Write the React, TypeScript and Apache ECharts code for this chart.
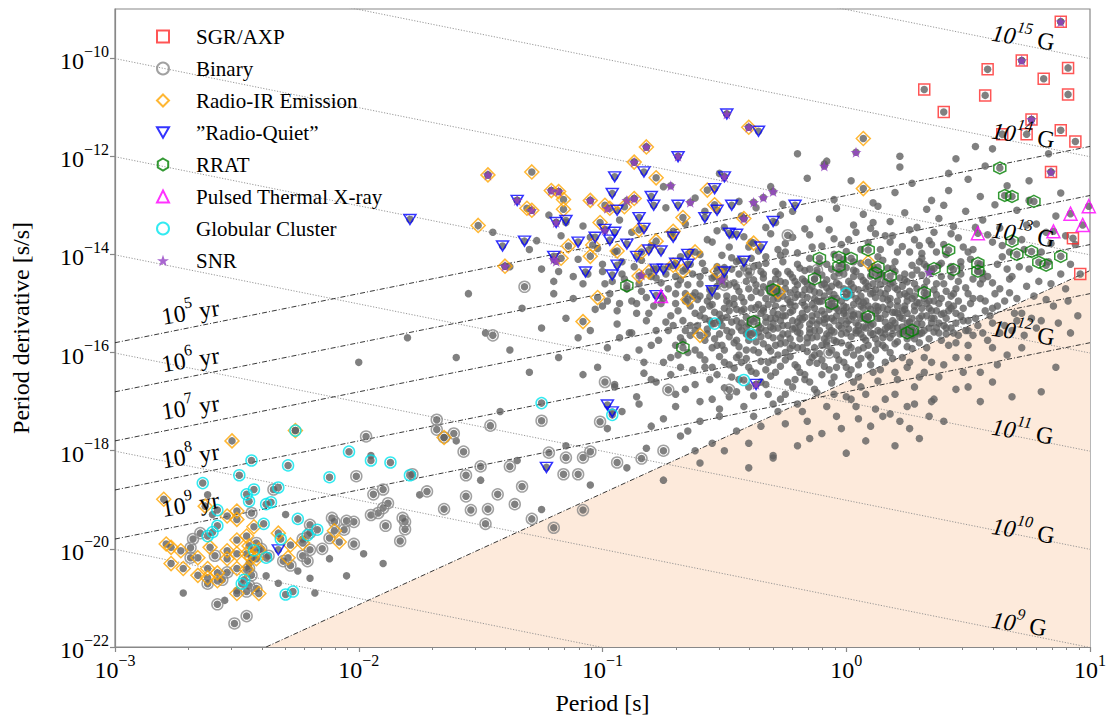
import React, { useEffect, useRef } from "react";
import * as echarts from "echarts";

// All positions are [log10 P (s), log10 Pdot (s/s)].

// Ordinary (isolated, non-flagged) radio pulsars
const normalPsr: number[][] = [
  [-0.62,-12.85],[-0.52,-12.35],[-0.44,-12.92],[-0.31,-12.62],[-0.26,-12.98],[-0.16,-12.45],[-0.05,-12.88],[0.02,-12.5],[0.11,-12.95],[0.2,-12.74],
  [0.22,-12.22],[0.27,-12.55],[0.35,-12.9],[0.42,-12.7],[0.5,-12.47],[0.55,-12.82],[0.61,-12.99],[0.66,-12.6],[0.75,-12.9],[-0.75,-12.62],
  [-0.09,-12.16],[0.45,-12.05],[0.6,-11.85],[-0.2,-11.95],[0.22,-12.0],[0.53,-11.8],[0.83,-11.95],[-0.08,-12.1],
  [-1.22,-13.2],[-1.08,-13.42],[-0.93,-13.3],[-0.74,-13.05],[-0.66,-13.38],[-0.58,-13.12],[-0.5,-13.45],[-0.43,-13.22],[-0.37,-13.05],[-0.29,-13.35],
  [-0.22,-13.12],[-0.17,-13.48],[-0.11,-13.28],[-0.04,-13.06],[0.03,-13.4],[0.07,-13.18],[0.13,-13.02],[0.18,-13.33],[0.24,-13.15],[0.29,-13.45],
  [0.33,-13.08],[0.38,-13.27],[0.44,-13.43],[0.49,-13.12],[0.56,-13.3],[0.63,-13.46],[0.7,-13.1],[0.78,-13.38],[0.86,-13.22],[-0.27,-13.2],[0.1,-13.47],[0.4,-13.0],
  [-1.3,-13.9],[-1.17,-13.62],[-1.02,-13.88],[-0.88,-13.55],[-0.8,-13.82],[-0.72,-13.6],[-0.64,-13.95],[-0.57,-13.7],[-0.53,-13.52],[-0.48,-13.85],
  [-0.42,-13.64],[-0.36,-13.93],[-0.31,-13.58],[-0.25,-13.78],[-0.2,-13.97],[-0.15,-13.6],[-0.1,-13.83],[-0.05,-13.68],[0.0,-13.94],[0.04,-13.55],
  [0.09,-13.76],[0.14,-13.9],[0.19,-13.62],[0.23,-13.84],[0.28,-13.7],[0.31,-13.98],[0.36,-13.55],[0.4,-13.8],[0.46,-13.66],[0.52,-13.9],
  [0.58,-13.6],[0.64,-13.82],[0.72,-13.7],[0.8,-13.95],[0.9,-13.62],[-0.39,-13.75],[-0.02,-13.8],[0.12,-13.58],[0.26,-13.95],[0.34,-13.72],
  [-1.25,-14.3],[-1.12,-14.45],[-1.0,-14.2],[-0.92,-14.4],[-0.84,-14.12],[-0.78,-14.48],[-0.73,-14.25],[-0.68,-14.05],[-0.63,-14.4],[-0.59,-14.18],
  [-0.55,-14.48],[-0.51,-14.02],[-0.47,-14.3],[-0.44,-14.12],[-0.4,-14.42],[-0.36,-14.22],[-0.33,-14.05],[-0.29,-14.35],[-0.26,-14.15],[-0.22,-14.47],
  [-0.19,-14.28],[-0.15,-14.08],[-0.12,-14.38],[-0.08,-14.2],[-0.05,-14.45],[-0.01,-14.1],[0.03,-14.32],[0.06,-14.18],[0.1,-14.44],[0.13,-14.05],
  [0.17,-14.28],[0.2,-14.15],[0.24,-14.4],[0.27,-14.22],[0.31,-14.08],[0.35,-14.35],[0.39,-14.18],[0.43,-14.45],[0.47,-14.25],[0.51,-14.1],
  [0.56,-14.38],[0.62,-14.2],[0.68,-14.45],[0.75,-14.3],[0.83,-14.15],[-0.34,-14.4],[-0.17,-14.33],[0.0,-14.27],[0.15,-14.42],[0.33,-14.25],
  [-1.2,-14.8],[-1.08,-14.6],[-0.98,-14.95],[-0.9,-14.7],[-0.82,-14.88],[-0.76,-14.58],[-0.7,-14.8],[-0.65,-14.62],[-0.61,-14.92],[-0.56,-14.72],
  [-0.52,-14.55],[-0.49,-14.85],[-0.45,-14.66],[-0.42,-14.97],[-0.38,-14.52],[-0.35,-14.78],[-0.31,-14.6],[-0.28,-14.9],[-0.25,-14.7],[-0.21,-14.55],
  [-0.18,-14.83],[-0.14,-14.65],[-0.11,-14.96],[-0.07,-14.75],[-0.04,-14.58],[0.0,-14.88],[0.03,-14.68],[0.07,-14.53],[0.1,-14.8],[0.14,-14.62],
  [0.17,-14.93],[0.21,-14.72],[0.25,-14.56],[0.28,-14.85],[0.32,-14.67],[0.36,-14.95],[0.4,-14.6],[0.44,-14.8],[0.49,-14.68],[0.55,-14.9],
  [0.6,-14.58],[0.67,-14.78],[0.74,-14.65],[0.82,-14.92],[0.9,-14.7],[-0.46,-14.58],[-0.23,-14.97],[-0.09,-14.6],[0.05,-14.95],[0.19,-14.57],
  [0.3,-14.99],[-0.6,-14.6],[-0.33,-14.9],[0.12,-14.72],
  [-1.15,-15.3],[-1.03,-15.12],[-0.94,-15.42],[-0.86,-15.2],[-0.79,-15.05],[-0.74,-15.38],[-0.69,-15.15],[-0.64,-15.45],[-0.6,-15.25],[-0.56,-15.05],
  [-0.52,-15.35],[-0.48,-15.15],[-0.44,-15.48],[-0.41,-15.28],[-0.37,-15.08],[-0.33,-15.38],[-0.3,-15.18],[-0.26,-15.45],[-0.23,-15.02],[-0.19,-15.3],
  [-0.16,-15.12],[-0.12,-15.42],[-0.09,-15.22],[-0.05,-15.05],[-0.02,-15.35],[0.02,-15.15],[0.05,-15.45],[0.09,-15.27],[0.13,-15.07],[0.16,-15.38],
  [0.2,-15.18],[0.23,-15.48],[0.27,-15.3],[0.31,-15.1],[0.35,-15.4],[0.39,-15.22],[0.44,-15.05],[0.5,-15.35],[0.57,-15.15],[0.65,-15.45],
  [0.72,-15.2],[0.8,-15.35],[-0.55,-15.42],[-0.35,-15.2],[-0.14,-15.25],[0.07,-15.1],[0.25,-15.2],
  [-1.1,-15.7],[-0.98,-15.9],[-0.88,-15.6],[-0.8,-15.85],[-0.73,-15.55],[-0.67,-15.78],[-0.62,-15.95],[-0.57,-15.62],[-0.53,-15.85],[-0.49,-15.55],
  [-0.45,-15.75],[-0.41,-15.95],[-0.38,-15.6],[-0.34,-15.82],[-0.3,-15.52],[-0.27,-15.7],[-0.23,-15.92],[-0.2,-15.58],[-0.16,-15.8],[-0.13,-15.55],
  [-0.09,-15.72],[-0.06,-15.95],[-0.02,-15.62],[0.01,-15.85],[0.05,-15.55],[0.08,-15.75],[0.12,-15.95],[0.16,-15.62],[0.2,-15.82],[0.24,-15.55],
  [0.28,-15.72],[0.33,-15.9],[0.38,-15.6],[0.45,-15.8],[0.52,-15.65],[0.6,-15.9],[-0.31,-15.97],[-0.04,-15.78],
  [-1.02,-16.3],[-0.9,-16.1],[-0.83,-16.42],[-0.75,-16.2],[-0.69,-16.05],[-0.63,-16.35],[-0.58,-16.15],[-0.53,-16.45],[-0.48,-16.25],[-0.44,-16.05],
  [-0.39,-16.38],[-0.35,-16.18],[-0.31,-16.48],[-0.27,-16.28],[-0.23,-16.08],[-0.19,-16.4],[-0.15,-16.2],[-0.11,-16.02],[-0.07,-16.35],[-0.03,-16.15],
  [0.01,-16.45],[0.05,-16.25],[0.09,-16.05],[0.14,-16.35],[0.19,-16.12],[0.25,-16.3],[0.32,-16.1],[0.4,-16.25],[0.48,-16.4],
  [-0.95,-16.7],[-0.86,-16.9],[-0.78,-16.6],[-0.7,-16.85],[-0.62,-16.65],[-0.55,-16.95],[-0.5,-16.72],[-0.44,-16.55],[-0.38,-16.88],[-0.33,-16.65],
  [-0.27,-16.95],[-0.22,-16.7],[-0.17,-16.55],[-0.12,-16.82],[-0.06,-16.62],[0.0,-16.9],[0.06,-16.7],[0.13,-16.58],[0.2,-16.85],[0.28,-16.7],[0.36,-16.95],
  [-0.92,-17.2],[-0.8,-17.5],[-0.7,-17.1],[-0.6,-17.4],[-0.52,-17.15],[-0.45,-17.6],[-0.38,-17.3],[-0.3,-17.05],[-0.25,-17.45],[-0.18,-17.2],
  [-0.1,-17.65],[-0.04,-17.3],[0.04,-17.1],[0.1,-17.5],[0.18,-17.25],[0.26,-17.55],[0.34,-17.3],[-0.55,-17.85],[-0.2,-17.9],[0.0,-18.05],
  [-1.55,-14.8],[-1.45,-13.55],[-1.38,-14.25],[-1.33,-15.1],[-1.27,-13.72],[-1.2,-14.55],[-1.15,-13.35],[-1.1,-14.1],[-1.05,-13.65],[-0.99,-14.6],
  [-0.95,-13.95],[-0.93,-15.0],[-1.48,-15.6],[-1.38,-15.95],[-1.25,-15.5],[-1.18,-16.1],[-1.08,-16.45],[-0.95,-16.65],
  [0.5,-13.95],[0.55,-14.6],[0.6,-15.1],[0.64,-14.05],[0.68,-15.55],[0.7,-14.9],[0.73,-13.9],[0.76,-15.3],[0.79,-14.55],[0.82,-13.55],
  [0.85,-15.05],[0.88,-14.4],[0.92,-15.6],[0.94,-13.8],[0.58,-15.75],[0.66,-16.05],[0.45,-16.1],[0.5,-16.7],[0.38,-16.5],[0.72,-15.9],
  [0.86,-16.3],[0.95,-15.25],[0.42,-12.35],[0.57,-12.2],[0.75,-12.5],[0.88,-12.75],
  [-1.95,-18.1],[-1.75,-18.9],[-1.6,-17.8],[-1.5,-18.6],[-1.42,-17.2],[-1.35,-18.2],[-1.25,-19.2],[-1.15,-17.9],[-1.05,-18.7],[-0.98,-17.55],
  [-0.9,-18.35],[-0.82,-17.95],[-0.75,-18.6],[-0.68,-17.7],[-0.6,-18.25],[-0.5,-18.0],[-0.4,-18.35],[-0.3,-18.15],[-1.3,-16.4],[-1.6,-16.1],
  [-1.8,-15.7],[-2.0,-16.2],
  [-2.72,-20.9],[-2.6,-19.3],[-2.55,-21.05],[-2.45,-20.3],[-2.38,-20.55],[-2.33,-20.7],[-2.3,-19.3],[-2.25,-20.45],[-2.18,-20.9],[-2.12,-20.2],
  [-2.05,-20.55],[-1.98,-20.1],[-2.62,-18.9],[-2.5,-20.85],[-2.2,-20.6],[-1.9,-20.3],
  [-0.5,-14.27],[-0.46,-14.9],[-0.43,-15.55],[-0.4,-14.7],[-0.37,-15.3],[-0.34,-14.48],[-0.32,-15.65],[-0.29,-14.8],[-0.26,-15.1],[-0.24,-14.35],
  [-0.21,-15.5],[-0.18,-14.98],[-0.16,-15.7],[-0.13,-14.5],[-0.1,-15.15],[-0.08,-14.68],[-0.06,-15.55],[-0.03,-14.32],[-0.01,-15.05],[0.02,-14.6],
  [0.04,-15.6],[0.06,-14.85],[0.08,-15.32],[0.11,-14.25],[0.13,-15.55],[0.15,-14.9],[0.18,-15.45],[0.22,-14.48],[0.24,-15.05],[0.26,-14.75],
  [0.29,-15.58],[0.31,-14.42],[0.33,-15.25],[0.37,-14.82],[-0.48,-15.0],[-0.44,-14.4],[-0.41,-15.62],[-0.38,-14.25],[-0.36,-15.02],[-0.3,-14.68],
  [-0.27,-15.35],[-0.25,-14.58],[-0.2,-15.38],[-0.17,-14.55],[-0.15,-15.52],[-0.11,-14.78],[-0.07,-15.48],[-0.04,-14.9],[0.0,-15.25],[0.03,-14.45],
  [0.07,-15.7],[0.09,-14.65],[0.12,-15.2],[0.16,-14.55],[0.19,-15.62],[0.21,-14.95],[0.25,-15.4],[0.28,-14.6],[0.3,-15.3],[0.34,-14.95],
  [-0.53,-14.65],[-0.58,-15.3],[-0.62,-14.78],[-0.66,-15.55],[-0.7,-14.45],[-0.55,-15.9],[-0.45,-16.1],[-0.28,-16.05],[-0.12,-16.22],[0.03,-16.05],
  [0.18,-16.0],[0.41,-15.5],[0.46,-14.95],[0.52,-14.5],[0.47,-15.25],[0.41,-14.0],[0.35,-13.8],[0.18,-13.75],[-0.05,-14.0],[-0.25,-13.95],
  [-0.45,-14.15],[-0.6,-14.0],
  [-0.58,-14.33],[-0.56,-14.86],[-0.54,-15.18],[-0.52,-15.62],[-0.5,-14.46],[-0.49,-15.28],[-0.47,-14.07],[-0.46,-15.8],[-0.44,-14.75],[-0.43,-15.15],
  [-0.41,-14.55],[-0.4,-15.42],[-0.39,-14.08],[-0.37,-14.62],[-0.36,-15.58],[-0.34,-15.1],[-0.33,-14.18],[-0.32,-14.7],[-0.31,-15.48],[-0.29,-14.5],
  [-0.28,-15.22],[-0.27,-14.02],[-0.26,-14.85],[-0.24,-15.62],[-0.23,-14.4],[-0.22,-15.15],[-0.21,-14.72],[-0.2,-14.2],[-0.19,-15.45],[-0.18,-14.5],
  [-0.17,-15.05],[-0.16,-14.88],[-0.15,-14.3],[-0.14,-15.35],[-0.13,-14.76],[-0.12,-15.68],[-0.11,-14.18],[-0.1,-14.95],[-0.09,-15.4],[-0.08,-14.52],
  [-0.07,-15.12],[-0.06,-14.3],[-0.05,-14.82],[-0.04,-15.25],[-0.03,-14.62],[-0.02,-15.5],[-0.01,-14.4],[0.0,-15.08],[0.01,-14.72],[0.02,-15.32],
  [0.03,-14.15],[0.04,-14.9],[0.05,-15.22],[0.06,-14.45],[0.07,-15.48],[0.08,-14.7],[0.09,-15.05],[0.1,-14.3],[0.11,-15.62],[0.12,-14.88],
  [0.13,-14.5],[0.14,-15.3],[0.15,-14.12],[0.16,-14.8],[0.17,-15.12],[0.18,-14.6],[0.19,-15.35],[0.2,-14.35],[0.21,-15.5],[0.22,-14.82],
  [0.23,-15.15],[0.24,-14.52],[0.25,-14.95],[0.26,-15.55],[0.27,-14.42],[0.28,-15.15],[0.29,-14.7],[0.3,-14.15],[0.31,-15.42],[0.32,-14.9],
  [0.33,-14.55],[0.34,-15.1],[0.35,-14.3],[0.36,-15.3],[0.37,-14.6],[0.38,-15.0],[0.39,-14.45],[0.4,-15.45],[0.41,-14.75],[0.42,-15.15],
  [0.43,-14.25],[0.44,-15.6],[0.46,-14.55],[0.48,-15.1],[0.5,-14.8],[0.53,-15.3],[0.55,-14.2],[0.57,-14.95],[0.6,-15.4],[0.63,-14.7],
  [-0.57,-14.95],[-0.53,-14.25],[-0.51,-15.85],[-0.48,-14.62],[-0.45,-15.35],[-0.42,-14.28],[-0.39,-14.88],[-0.37,-15.78],[-0.35,-14.35],[-0.33,-15.28],
  [-0.3,-14.92],[-0.28,-14.4],[-0.25,-15.25],[-0.23,-14.78],[-0.22,-15.85],[-0.2,-14.62],[-0.18,-15.2],[-0.15,-14.72],[-0.13,-15.9],[-0.12,-14.95],
  [-0.1,-14.42],[-0.08,-15.3],[-0.06,-14.9],[-0.05,-15.75],[-0.02,-14.22],[-0.01,-15.2],[0.01,-14.55],[0.02,-15.9],[0.04,-14.35],[0.06,-15.05],
  [0.08,-14.95],[0.1,-15.45],[0.11,-14.6],[0.13,-15.82],[0.14,-14.4],[0.16,-15.22],[0.18,-14.9],[0.19,-14.28],[0.21,-15.2],[0.23,-14.65],
  [0.25,-15.72],[0.27,-14.9],[0.29,-14.32],[0.3,-15.62],[0.32,-14.2],[0.34,-15.5],[0.36,-14.72],[0.38,-14.22],[0.4,-15.2],[0.43,-14.85],
  [0.45,-15.4],[0.47,-14.4],[0.49,-15.55],[0.51,-15.0],[0.54,-14.35],[0.56,-15.6],[0.58,-14.45],[0.62,-15.05],[0.66,-14.3],[0.7,-15.35],
  [-0.6,-16.05],[-0.55,-16.3],[-0.5,-15.95],[-0.47,-16.5],[-0.43,-16.2],[-0.4,-15.75],[-0.36,-16.0],[-0.33,-16.35],[-0.29,-15.85],[-0.25,-16.15],
  [-0.21,-16.55],[-0.18,-15.9],[-0.14,-16.1],[-0.1,-16.45],[-0.08,-15.85],[-0.04,-16.3],[0.0,-16.0],[0.03,-16.6],[0.07,-15.9],[0.1,-16.25],
  [0.15,-15.85],[0.2,-16.4],[0.23,-16.1],[0.27,-15.92],[0.3,-16.5],[0.35,-16.2],[0.42,-15.85],[0.5,-16.1],[0.55,-16.4],[0.62,-16.25],
  [0.35,-17.0],[0.45,-16.75],[0.25,-17.1],[0.4,-17.4],[0.15,-17.3],[0.55,-17.0],[0.6,-16.6],[0.3,-17.75],[0.68,-16.9],[0.8,-16.8],
  [-1.18,-14.35],[-1.12,-14.9],[-1.06,-14.4],[-1.0,-15.05],[-0.96,-14.55],[-0.92,-14.15],[-0.88,-14.95],[-0.85,-14.6],[-0.82,-15.35],[-0.79,-14.3],
  [-0.76,-15.0],[-0.73,-14.7],[-0.71,-15.45],[-0.68,-14.52],[-0.66,-14.95],[-0.64,-14.2],[-0.62,-15.2],[-0.6,-14.45],[-0.89,-15.6],[-0.77,-15.75],
  [-0.72,-16.1],[-0.65,-16.0],[-1.05,-15.55],[-0.83,-16.2],
  [-0.55,-13.75],[-0.47,-13.6],[-0.4,-13.85],[-0.33,-13.45],[-0.28,-13.9],[-0.22,-13.65],[-0.14,-13.85],[-0.07,-13.5],[0.01,-13.7],[0.06,-13.9],
  [0.11,-13.35],[0.16,-13.62],[0.21,-13.95],[0.26,-13.5],[0.3,-13.82],[0.37,-13.95],[0.43,-13.58],[0.48,-13.85],[0.53,-13.45],[0.6,-13.75],
  [0.67,-13.95],[0.74,-13.4],[0.84,-13.78],[0.92,-14.2],
  [-0.59,-15.12],[-0.57,-15.52],[-0.55,-15.02],[-0.54,-15.72],[-0.52,-15.22],[-0.51,-15.45],[-0.5,-15.1],[-0.48,-15.68],[-0.47,-15.38],[-0.46,-15.02],
  [-0.44,-15.88],[-0.43,-15.4],[-0.42,-15.12],[-0.4,-15.6],[-0.39,-15.33],[-0.38,-15.95],[-0.36,-15.45],[-0.35,-15.68],[-0.34,-15.15],[-0.32,-15.9],
  [-0.31,-15.3],[-0.3,-15.7],[-0.29,-15.05],[-0.28,-15.5],[-0.27,-15.82],[-0.26,-15.25],[-0.24,-15.45],[-0.23,-15.72],[-0.22,-15.35],[-0.21,-15.05],
  [-0.2,-15.9],[-0.19,-15.6],[-0.17,-15.28],[-0.16,-15.98],[-0.15,-15.42],[-0.14,-15.7],[-0.13,-15.1],[-0.11,-15.55],[-0.1,-15.85],[-0.09,-15.32],
  [-0.08,-15.62],[-0.07,-15.02],[-0.06,-15.3],[-0.05,-15.58],[-0.04,-16.05],[-0.03,-15.45],[-0.02,-15.8],[-0.01,-15.15],[0.0,-15.6],[0.01,-15.35],
  [0.02,-15.68],[0.03,-15.02],[0.04,-15.4],[0.05,-15.95],[0.06,-15.62],[0.07,-15.25],[0.08,-15.5],[0.09,-15.85],[0.1,-15.12],[0.11,-15.42],
  [0.12,-15.72],[0.13,-15.3],[0.14,-15.58],[0.15,-15.08],[0.16,-15.9],[0.17,-15.48],[0.18,-15.7],[0.19,-15.18],[0.2,-15.4],[0.21,-15.78],
  [0.22,-15.28],[0.23,-15.6],[0.24,-15.12],[0.25,-15.88],[0.26,-15.38],[0.27,-15.65],[0.28,-15.05],[0.29,-15.42],[0.3,-15.8],[0.31,-15.25],
  [0.32,-15.55],[0.33,-15.0],[0.34,-15.72],[0.35,-15.3],[0.36,-15.58],[0.37,-15.15],[0.38,-15.4],[0.39,-15.75],[0.41,-15.3],[0.42,-15.02],
  [0.43,-15.5],[0.45,-15.2],[0.46,-15.65],[0.48,-15.35],[0.5,-15.55],[-0.58,-16.3],[-0.52,-16.08],[-0.46,-16.32],[-0.41,-16.12],[-0.37,-16.42],
  [-0.32,-16.2],[-0.29,-16.4],[-0.25,-16.0],[-0.21,-16.25],[-0.17,-16.45],[-0.13,-16.05],[-0.09,-16.28],[-0.05,-16.5],[-0.01,-16.2],[0.02,-16.35],
  [0.06,-16.12],[0.11,-16.4],[0.16,-16.2],[0.21,-16.55],[0.26,-16.2],
  [-0.72,-16.45],[-0.66,-16.75],[-0.6,-17.0],[-0.56,-16.55],[-0.52,-17.3],[-0.48,-16.9],[-0.42,-17.1],[-0.4,-16.7],[-0.35,-17.5],[-0.32,-16.85],
  [-0.28,-17.2],[-0.24,-16.6],[-0.2,-17.05],[-0.16,-17.4],[-0.13,-16.75],[-0.08,-17.1],[-0.05,-16.85],[-0.02,-17.55],[0.02,-16.95],[0.05,-17.35],
  [0.08,-16.85],[0.12,-17.15],[0.16,-16.95],[0.22,-17.4],[0.28,-17.05],[-0.65,-17.6],[-0.4,-17.85],[-0.15,-17.75],[0.08,-17.8],[-0.3,-18.1],
  [-0.75,-17.35],[-0.85,-17.05],[-0.62,-18.0],[0.2,-17.9],[0.32,-16.4],
  [-1.0,-14.35],[-0.97,-14.8],[-0.94,-15.15],[-0.91,-14.5],[-0.87,-14.25],[-0.86,-15.0],[-0.84,-14.75],[-0.81,-15.2],[-0.8,-14.45],[-0.78,-15.55],
  [-0.75,-14.9],[-0.74,-14.4],[-0.72,-15.25],[-0.7,-15.0],[-0.69,-14.62],[-0.67,-15.35],[-0.66,-14.3],[-0.64,-15.65],[-0.63,-14.85],[-0.61,-15.45],
  [-0.93,-15.7],[-0.85,-15.95],[-0.7,-15.85],[-0.68,-16.3],[-0.8,-16.55],
  [0.47,-14.15],[0.5,-15.85],[0.52,-14.9],[0.54,-15.45],[0.56,-14.5],[0.59,-15.25],[0.61,-14.8],[0.63,-15.6],[0.65,-14.95],[0.67,-14.5],
  [0.69,-15.2],[0.71,-14.25],[0.73,-15.65],[0.77,-14.85],[0.78,-15.5],[0.84,-14.6],[0.87,-15.4],[0.91,-14.95],
  [-0.34,-14.66],[-0.32,-15.02],[-0.3,-15.4],[-0.28,-14.72],[-0.26,-15.62],[-0.24,-14.92],[-0.22,-15.52],[-0.2,-14.82],[-0.18,-15.32],[-0.16,-14.6],
  [-0.14,-15.02],[-0.12,-15.22],[-0.1,-14.62],[-0.08,-15.78],[-0.06,-14.65],[-0.04,-15.1],[-0.02,-14.95],[0.0,-15.42],[0.02,-14.82],[0.04,-15.55],
  [0.06,-15.3],[0.08,-14.58],[0.1,-15.6],[0.12,-15.05],[0.14,-14.78],[0.16,-15.52],[0.18,-15.02],[0.2,-14.68],[0.22,-15.62],[0.24,-14.8],
  [-0.33,-15.55],[-0.31,-14.78],[-0.29,-15.3],[-0.27,-14.55],[-0.25,-15.8],[-0.23,-15.18],[-0.21,-14.88],[-0.19,-15.72],[-0.17,-14.72],[-0.15,-15.6],
  [-0.13,-14.9],[-0.11,-15.35],[-0.09,-14.85],[-0.07,-15.65],[-0.05,-15.35],[-0.03,-15.15],[-0.01,-14.7],[0.01,-15.52],[0.03,-15.22],[0.05,-14.72],
  [0.07,-14.98],[0.09,-15.38],[0.11,-14.78],[0.13,-15.15],[0.15,-15.7],[0.17,-14.7],[0.19,-15.5],[0.21,-15.05],[0.23,-15.3],[0.25,-14.85],
  [-0.45,-15.12],[-0.43,-14.88],[-0.41,-15.48],[-0.39,-15.1],[-0.37,-14.75],[-0.35,-15.5],[-0.47,-15.58],[-0.49,-14.95],[-0.51,-15.3],[-0.53,-14.85],
  [0.27,-15.48],[0.29,-14.98],[0.31,-15.6],[0.33,-14.8],[0.35,-15.15],[0.37,-15.5],[0.39,-14.9],[0.41,-15.62],[0.43,-15.1],[0.45,-14.7],
  [-0.62,-15.55],[-0.6,-14.85],[-0.58,-15.75],[-0.56,-15.35],[-0.54,-14.45],[-0.64,-15.05],[-0.66,-14.8],[-0.68,-15.7],[-0.5,-16.2],[-0.4,-16.3],
  [-0.3,-16.15],[-0.2,-16.3],[-0.1,-16.15],[0.0,-16.3],[0.1,-16.1],[-0.35,-16.6],[-0.15,-16.6],[0.05,-16.5],[-0.45,-16.8],[-0.25,-16.85],
];

const sgrAxp: number[][] = [
  [0.88,-9.26],[0.72,-10.05],[0.58,-10.23],[0.91,-10.2],[0.81,-10.42],[0.32,-10.64],[0.57,-10.76],[0.91,-10.74],[0.4,-11.1],
  [0.76,-11.25],[0.64,-11.55],[0.74,-11.55],[0.88,-11.47],[0.94,-11.7],[0.84,-12.32],[0.93,-13.67],[0.96,-14.4],
];

const binary: number[][] = [
  [-1.94,-18.89],[-1.9,-18.79],[-1.88,-19.07],[-1.9,-19.17],[-1.95,-19.31],[-1.92,-19.27],[-1.81,-19.45],[-1.81,-19.6],[-1.89,-19.53],[-1.83,-19.84],
  [-2.02,-19.45],[-2.06,-19.61],[-2.1,-19.45],[-2.12,-19.78],[-2.02,-19.9],[-2.2,-19.51],[-2.2,-19.67],[-2.23,-19.8],[-2.15,-20.0],[-2.2,-20.02],
  [-2.23,-20.14],[-2.21,-20.25],[-2.31,-20.25],[-2.4,-20.0],[-2.42,-19.88],[-2.37,-20.14],[-2.28,-20.34],[-2.44,-20.54],[-2.45,-20.4],[-2.45,-20.75],
  [-2.42,-20.81],[-2.46,-20.87],[-2.54,-20.48],[-2.56,-20.63],[-2.58,-21.13],[-2.46,-21.37],[-2.51,-21.52],[-2.62,-20.71],[-2.69,-19.98],[-2.68,-19.8],
  [-2.65,-19.68],[-2.69,-20.18],[-2.59,-20.14],[-2.44,-19.27],[-2.35,-18.79],[-2.11,-19.37],[-1.82,-19.37],
  [-1.68,-17.37],[-1.68,-17.57],[-1.65,-17.73],[-1.61,-17.65],[-1.57,-18.02],[-1.56,-18.5],[-1.46,-17.49],[-1.5,-18.32],[-1.38,-18.32],[-1.25,-17.39],
  [-1.22,-18.04],[-1.15,-18.14],[-1.08,-18.14],[-1.05,-18.02],[-1.01,-17.41],[-0.99,-16.6],[-0.94,-18.24],[-0.84,-18.16],[-0.75,-18.0],[-2.01,-18.52],
  [-1.78,-18.48],[-1.72,-18.83],[-1.65,-19.19],[-1.56,-18.93],[-1.54,-19.21],[-1.47,-19.19],[-1.48,-19.49],[-1.43,-18.89],[-1.36,-19.09],[-1.33,-18.73],
  [-1.29,-19.39],[-1.2,-19.57],[-1.16,-18.48],[-1.1,-18.48],[-1.08,-19.21],[-1.97,-17.71],[-2.05,-19.43],
  [-1.32,-14.66],[-1.45,-15.65],[-0.73,-16.76],[-0.48,-16.76],[-0.24,-13.61],[-0.4,-14.34],[-0.5,-14.62],[-0.12,-14.32],[-0.03,-14.38],[0.03,-15.25],[-0.07,-16.0],
];

const radioIR: number[][] = [
  [-2.8,-18.99],[-2.63,-19.13],[-2.52,-17.8],[-2.26,-17.59],[-2.54,-19.33],[-2.5,-19.23],[-2.5,-19.4],[-2.43,-19.55],[-2.5,-19.82],[-2.79,-19.9],
  [-2.77,-19.97],[-2.73,-20.04],[-2.77,-20.3],[-2.72,-20.4],[-2.66,-20.18],[-2.66,-20.54],[-2.62,-20.4],[-2.61,-19.97],[-2.62,-20.59],[-2.58,-20.49],
  [-2.58,-20.65],[-2.54,-20.04],[-2.5,-20.1],[-2.54,-20.2],[-2.46,-20.1],[-2.45,-19.94],[-2.44,-20.18],[-2.5,-20.4],[-2.46,-20.42],[-2.5,-20.91],
  [-2.41,-20.91],[-2.33,-19.68],[-2.28,-19.92],[-2.29,-20.18],[-2.23,-19.88],[-2.42,-20.2],[-2.41,-20.02],[-2.46,-19.74],[-2.1,-19.63],[-2.08,-19.86],
  [-1.65,-17.73],
  [-1.47,-12.38],[-1.29,-12.32],[-1.21,-12.7],[-1.18,-12.72],[-1.16,-12.88],[-1.31,-13.06],[-1.29,-13.1],[-1.16,-13.08],[-1.51,-13.41],[-1.4,-14.24],
  [-1.14,-13.83],[-1.17,-14.08],[-1.05,-12.9],[-1.05,-14.04],[-1.01,-13.35],[-0.99,-13.0],[-0.97,-13.06],[-1.04,-13.81],[-0.94,-13.93],[-0.91,-13.03],
  [-0.87,-12.86],[-0.87,-12.12],[-0.82,-11.81],[-0.78,-12.44],[-0.85,-13.5],[-0.84,-13.95],[-0.81,-14.36],[-0.85,-14.44],[-0.78,-13.73],[-1.02,-14.88],
  [-1.08,-15.37],[-0.71,-13.53],[-0.71,-14.22],[-0.4,-11.41],[0.07,-11.64],[0.07,-12.66],[-0.57,-12.69],[-0.54,-12.99],[-0.67,-13.25],[-0.42,-13.27],
  [-0.38,-13.77],[-0.62,-13.95],[-0.67,-14.34],[-0.53,-14.34],[-0.65,-14.92],[-0.6,-15.65],[-0.28,-14.76],[0.09,-14.16],
];

const radioQuiet: number[][] = [
  [-1.79,-13.29],[-1.35,-12.9],[-1.41,-13.83],[-1.32,-13.73],[-1.19,-13.35],[-1.15,-13.31],[-1.1,-13.75],[-1.2,-14.04],[-1.07,-14.36],[-0.95,-12.42],
  [-0.83,-12.32],[-0.96,-12.76],[-0.94,-13.1],[-0.99,-13.49],[-0.95,-13.55],[-0.97,-13.71],[-1.03,-13.65],[-0.9,-13.79],[-0.85,-13.25],[-0.83,-13.47],
  [-0.8,-12.82],[-0.79,-13.0],[-0.86,-14.04],[-0.81,-13.91],[-0.76,-13.93],[-0.94,-14.22],[-0.96,-14.42],[-0.78,-14.3],[-0.75,-14.3],[-0.7,-14.18],
  [-0.71,-13.65],[-0.69,-12.01],[-0.69,-13.0],[-0.78,-14.84],[-0.49,-11.14],[-0.36,-11.49],[-0.5,-12.42],[-0.54,-12.66],[-0.53,-13.1],[-0.47,-13.0],
  [-0.58,-13.25],[-0.21,-13.0],[-0.3,-13.33],[-0.48,-13.57],[-0.45,-13.59],[-0.35,-13.85],[-0.65,-14.0],[-0.65,-14.2],[-0.42,-14.14],[-0.5,-14.36],
  [-0.55,-14.74],[-0.37,-16.65],[-0.98,-17.07],[-0.96,-17.21],[-1.23,-18.34],[-2.33,-20.02],
];

const rrat: number[][] = [
  [0.63,-12.24],[0.65,-12.8],[0.68,-12.82],[0.77,-12.92],[0.68,-13.73],[0.7,-14.0],[0.76,-13.94],[0.79,-14.16],[0.82,-14.22],[0.88,-14.04],
  [0.42,-13.91],[0.54,-14.18],[0.54,-14.34],[0.44,-14.31],[0.36,-14.29],[0.32,-14.78],[0.09,-13.91],[0.13,-14.26],[0.12,-14.38],[0.18,-14.44],
  [0.02,-14.08],[-0.11,-14.08],[-0.03,-14.06],[-0.03,-14.24],[-0.13,-14.5],[-0.3,-14.72],[-0.06,-15.0],[0.09,-15.27],[-0.38,-15.37],[-0.67,-15.9],
  [-0.9,-14.64],[0.25,-15.6],[0.27,-15.55],
];

const thermalX: number[][] = [
  [0.92,-13.17],[0.97,-13.4],[0.85,-13.53],[0.54,-13.57],[0.995,-13.02],[-0.76,-14.85],
];

const globCluster: number[][] = [
  [-2.26,-17.59],[-2.44,-18.2],[-2.29,-18.3],[-2.04,-18.02],[-1.95,-18.2],[-1.87,-18.24],[-1.79,-18.5],[-2.12,-18.54],[-2.64,-18.66],[-2.49,-18.5],
  [-2.46,-18.89],[-2.43,-18.79],[-2.45,-19.03],[-2.33,-18.75],[-2.38,-19.09],[-2.36,-19.05],[-2.58,-19.21],[-2.25,-19.39],[-2.39,-19.49],[-2.58,-19.53],
  [-2.6,-19.66],[-2.62,-19.74],[-2.17,-19.61],[-2.21,-19.72],[-2.32,-19.8],[-2.43,-20.03],[-2.38,-20.18],[-2.47,-20.63],[-2.48,-20.71],[-2.27,-20.87],
  [-2.3,-20.93],[-1.25,-17.03],[-0.96,-17.27],[-0.54,-15.41],[-0.39,-15.63],[-0.42,-16.56],[0.0,-14.8],
];

const snr: number[][] = [
  [-1.47,-12.38],[-1.21,-12.7],[-1.18,-12.72],[-1.29,-13.1],[-1.35,-12.9],[-1.19,-13.35],[-1.4,-14.24],[-1.05,-12.9],[-0.87,-12.86],[-0.87,-12.12],
  [-0.82,-11.81],[-0.49,-11.14],[-0.69,-12.0],[-0.5,-12.42],[-0.42,-13.27],[-0.4,-11.41],[-0.37,-16.65],[0.04,-11.92],[0.34,-14.36],[0.88,-9.26],
  [0.72,-10.05],[0.76,-11.25],[0.84,-12.32],[-0.72,-12.6],[-0.64,-12.94],[-0.38,-12.94],[-0.34,-12.84],[-0.3,-12.72],[-0.09,-12.2],[-0.51,-14.52],
  [-0.9,-12.9],[-0.99,-13.51],[-0.98,-13.06],[-0.84,-14.42],[-1.2,-14.1],[-1.19,-14.14],
];

// Reference lines
const bFieldExps = [8, 9, 10, 11, 12, 13, 14, 15]; // log10 B (G)
const ageExps = [5, 6, 7, 8, 9]; // log10 tau (yr)
const deathLine: number[][] = [[-2.38, -22], [1, -14.33]];
const LOG_B_CONST = 19.505; // B = 3.2e19 sqrt(P Pdot)
const LOG_2YR = Math.log10(2 * 3.156e7); // tau = P / (2 Pdot)

// Axis ticks
const yMajor = [-22, -20, -18, -16, -14, -12, -10];
const xMinor: number[] = [];
for (let k = -3; k < 1; k++) for (let m = 2; m <= 9; m++) xMinor.push(k + Math.log10(m));

// Line annotation text and anchor placement
const bLabelExps = [15, 14, 13, 12, 11, 10, 9];
const bLabelAt = [[0.6, -9.42], [0.6, -11.41], [0.6, -13.43], [0.6, -15.43], [0.6, -17.45], [0.6, -19.47], [0.6, -21.38]];
const ageLabelExps = [5, 6, 7, 8, 9];
const ageLabelAt = [[-2.81, -15.21], [-2.81, -16.18], [-2.81, -17.15], [-2.81, -18.14], [-2.81, -19.13]];

const legendNames = [
  "SGR/AXP", "Binary", "Radio-IR Emission", "\u201dRadio-Quiet\u201d", "RRAT", "Pulsed Thermal X-ray", "Globular Cluster", "SNR",
];

const FONT = "'Liberation Serif', 'DejaVu Serif', serif";
const MINUS = "\u2212";

const supLabel = (v: number) => `{b|10}{s|${v < 0 ? MINUS : ""}${Math.abs(v)}}`;
const tickRich = {
  b: { fontSize: 24, fontFamily: FONT, color: "#000", lineHeight: 30, verticalAlign: "bottom" },
  s: { fontSize: 16, fontFamily: FONT, color: "#000", lineHeight: 16, verticalAlign: "top" },
};

const TRI_DOWN = "path://M0,0 L10,0 L5,8.66 Z";
const HEXAGON = "path://M5,0 L9.33,2.5 L9.33,7.5 L5,10 L0.67,7.5 L0.67,2.5 Z";
const STAR =
  "path://M5,0 L6.18,3.45 L9.76,3.45 L6.9,5.6 L7.94,9.05 L5,6.95 L2.06,9.05 L3.1,5.6 L0.24,3.45 L3.82,3.45 Z";

const hollow = (color: string) => ({ color: "rgba(0,0,0,0)", borderColor: color, borderWidth: 1.5 });

export default function App() {
  const ref = useRef<HTMLDivElement>(null);

  useEffect(() => {
    if (!ref.current) return;
    const chart = echarts.init(ref.current, undefined, { renderer: "svg" });

    const allPoints = [
      ...normalPsr, ...sgrAxp, ...binary, ...radioIR, ...radioQuiet, ...rrat, ...thermalX, ...globCluster, ...snr,
    ];

    const bLines = bFieldExps.map((e) => ({
      type: "line",
      silent: true,
      symbol: "none",
      z: 2,
      data: [-3, 1].map((lp) => [lp, 2 * (e - LOG_B_CONST) - lp]),
      lineStyle: { color: "#8c8c8c", width: 0.9, type: [1.2, 1.6] },
    }));
    const ageLines = ageExps.map((k) => ({
      type: "line",
      silent: true,
      symbol: "none",
      z: 2,
      data: [-3, 1].map((lp) => [lp, lp - k - LOG_2YR]),
      lineStyle: { color: "#222", width: 0.9, type: [5, 2, 1, 2] },
    }));

    const scatter = (name: string, data: number[][], symbol: string, size: any, itemStyle: any, z: number) => ({
      name,
      type: "scatter",
      data,
      symbol,
      symbolSize: size,
      itemStyle,
      z,
      silent: true,
    });

    const superRich = (italic: boolean) => ({
      n: { fontSize: 24, fontFamily: FONT, fontStyle: italic ? "italic" : "normal", fill: "#000", lineHeight: 30, verticalAlign: "bottom" },
      s: { fontSize: 16, fontFamily: FONT, fontStyle: italic ? "italic" : "normal", fill: "#000", lineHeight: 16, verticalAlign: "top" },
      g: { fontSize: 24, fontFamily: FONT, fill: "#000", lineHeight: 30, verticalAlign: "bottom" },
    });

    const option: any = {
      animation: false,
      backgroundColor: "#fff",
      grid: { left: 115, right: 20, top: 9, bottom: 67, show: true, borderColor: "#888", borderWidth: 1.2 },
      legend: {
        data: legendNames,
        orient: "vertical",
        left: 151,
        top: 21,
        itemWidth: 12,
        itemHeight: 12,
        itemGap: 11,
        textStyle: { fontSize: 21, fontFamily: FONT, color: "#000", padding: [0, 0, 0, 22] },
        selectedMode: false,
      },
      xAxis: [
        {
          type: "value",
          min: -3,
          max: 1,
          interval: 1,
          name: "Period [s]",
          nameLocation: "middle",
          nameGap: 44,
          nameTextStyle: { fontSize: 24, fontFamily: FONT, color: "#000" },
          axisLine: { onZero: false, lineStyle: { color: "#888", width: 1.2 } },
          axisTick: { length: 5, lineStyle: { color: "#888", width: 1.2 } },
          axisLabel: { formatter: supLabel, rich: tickRich, margin: 5 },
          splitLine: { show: false },
        },
        {
          type: "value",
          min: -3,
          max: 1,
          position: "bottom",
          axisLine: { show: false, onZero: false },
          axisTick: { customValues: xMinor, length: 3, lineStyle: { color: "#888", width: 1 } },
          axisLabel: { show: false },
          splitLine: { show: false },
        },
      ],
      yAxis: {
        type: "value",
        min: -22,
        max: -9,
        interval: 1,
        name: "Period derivative [s/s]",
        nameLocation: "middle",
        nameGap: 82,
        nameTextStyle: { fontSize: 24, fontFamily: FONT, color: "#000" },
        axisLine: { onZero: false, lineStyle: { color: "#888", width: 1.2 } },
        axisTick: { customValues: yMajor, length: 5, lineStyle: { color: "#888", width: 1.2 } },
        axisLabel: { customValues: yMajor, formatter: supLabel, rich: tickRich, margin: 6 },
        splitLine: { show: false },
      },
      series: [
        {
          type: "custom",
          silent: true,
          z: 1,
          data: [[deathLine[0][0], deathLine[0][1]]],
          renderItem: (_p: any, api: any) => {
            const pts = [deathLine[0], deathLine[1], [1, -22]].map((p) => api.coord(p));
            return { type: "polygon", shape: { points: pts }, style: { fill: "#fdeadb" } };
          },
        },
        ...bLines,
        ...ageLines,
        {
          type: "line",
          silent: true,
          symbol: "none",
          z: 2,
          data: deathLine,
          lineStyle: { color: "#222", width: 0.9, type: [5, 2, 1, 2] },
        },
        scatter("pulsars", allPoints, "circle", 7.5, { color: "#606060" }, 3),
        scatter(legendNames[0], sgrAxp, "rect", 11, hollow("#ff2a2a"), 4),
        scatter(legendNames[1], binary, "circle", 11, hollow("#8a8a8a"), 4),
        scatter(legendNames[2], radioIR, "diamond", 14, hollow("#ffa500"), 4),
        scatter(legendNames[3], radioQuiet, TRI_DOWN, [12, 10], hollow("#0000ff"), 4),
        scatter(legendNames[4], rrat, HEXAGON, 12, hollow("#008000"), 4),
        scatter(legendNames[5], thermalX, "triangle", 13, hollow("#ff00ff"), 4),
        scatter(legendNames[6], globCluster, "circle", 11, hollow("#00e5ee"), 4),
        scatter(legendNames[7], snr, STAR, 11, { color: "#9440c4" }, 5),
        {
          type: "custom",
          silent: true,
          z: 6,
          data: bLabelAt.map((a, i) => [a[0], a[1], bLabelExps[i]]),
          renderItem: (_p: any, api: any) => {
            const pt = api.coord([api.value(0), api.value(1)]);
            return {
              type: "text",
              x: pt[0],
              y: pt[1],
              rotation: -0.16,
              style: {
                text: `{n|10}{s|${api.value(2)}}{g| G}`,
                align: "left",
                verticalAlign: "middle",
                rich: superRich(true),
              },
            };
          },
        },
        {
          type: "custom",
          silent: true,
          z: 6,
          data: ageLabelAt.map((a, i) => [a[0], a[1], ageLabelExps[i]]),
          renderItem: (_p: any, api: any) => {
            const pt = api.coord([api.value(0), api.value(1)]);
            return {
              type: "text",
              x: pt[0],
              y: pt[1],
              rotation: 0.16,
              style: {
                text: `{n|10}{s|${api.value(2)}}{g| yr}`,
                align: "left",
                verticalAlign: "middle",
                rich: superRich(false),
              },
            };
          },
        },
      ],
    };

    chart.setOption(option);
    return () => chart.dispose();
  }, []);

  return (
    <div
      ref={ref}
      style={{ position: "fixed", left: 0, top: 0, width: 1110, height: 720, background: "#fff" }}
    />
  );
}
